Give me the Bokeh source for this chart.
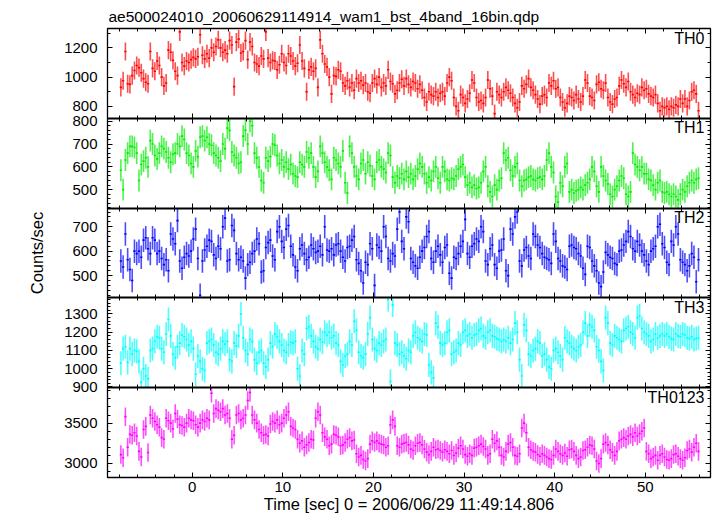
import numpy as np
from bokeh.plotting import figure
from bokeh.models import (ColumnDataSource, LinearAxis, Range1d, SingleIntervalTicker,
                          FixedTicker, Label)
from bokeh.embed import file_html
from bokeh.resources import INLINE

TITLE = "ae500024010_20060629114914_wam1_bst_4band_16bin.qdp"
X_LABEL = "Time [sec] 0 = 2006/06/29 11:49:14.806"
Y_LABEL = "Counts/sec"
BANDS = ["TH0", "TH1", "TH2", "TH3", "TH0123"]
T_START = -7.875   # centre of first 16-bin (0.25 s) bin
BIN = 0.25

th0 = [930, 975, 1175, 955, 950, 1010, 1045, 1080, 1065, 1030, 990, 965, 955, 1175, 1060, 1040,
       1110, 1080, 1000, 940, 960, 1185, 1170, 1115, 1040, 1010, 1310, 1100, 1075, 1110, 1100, 1120,
       1135, 1125, 1140, 1290, 1150, 1125, 1160, 1130, 1200, 1170, 1210, 1255, 1200, 1170, 1185, 1160,
       1250, 1220, 935, 1240, 1260, 1165, 1175, 1250, 1120, 1240, 1210, 1100, 1090, 1075, 1145, 1125,
       1310, 1130, 1100, 1115, 1110, 1050, 1085, 1160, 1100, 1080, 1160, 1145, 1110, 1075, 1095, 1220,
       1110, 1060, 900, 1050, 1070, 1040, 1060, 930, 1255, 1160, 1090, 1070, 1000, 885, 1010, 1005,
       1050, 1040, 960, 940, 975, 930, 960, 910, 990, 960, 975, 945, 960, 900, 890, 960,
       990, 950, 1000, 930, 960, 940, 1050, 970, 955, 885, 910, 960, 985, 940, 990, 950,
       930, 970, 960, 920, 950, 910, 860, 830, 900, 880, 870, 900, 860, 890, 900, 870,
       960, 1000, 975, 860, 800, 770, 880, 860, 820, 850, 890, 980, 960, 860, 830, 840,
       820, 860, 980, 920, 870, 750, 900, 880, 860, 900, 930, 910, 890, 860, 820, 790,
       830, 940, 920, 950, 990, 930, 910, 880, 850, 815, 870, 880, 860, 960, 940, 975,
       920, 930, 860, 830, 790, 820, 870, 860, 840, 880, 850, 830, 870, 980, 960, 870,
       860, 840, 950, 965, 920, 910, 960, 860, 830, 815, 850, 860, 940, 980, 955, 930,
       970, 900, 880, 860, 890, 880, 930, 910, 920, 885, 870, 860, 880, 820, 770, 800,
       790, 800, 780, 800, 790, 810, 800, 850, 820, 850, 800, 840, 900, 910, 885, 770]

th1 = [585, 500, 630, 660, 690, 690, 685, 660, 540, 610, 625, 640, 600, 715, 700, 650,
       635, 660, 690, 680, 665, 640, 620, 655, 660, 700, 690, 735, 720, 660, 650, 615,
       600, 670, 645, 730, 735, 715, 730, 700, 695, 660, 650, 640, 625, 700, 680, 770,
       760, 665, 650, 640, 615, 620, 735, 760, 700, 800, 780, 660, 640, 600, 540, 530,
       640, 625, 645, 700, 695, 650, 615, 630, 600, 620, 590, 610, 570, 560, 555, 620,
       610, 600, 665, 640, 660, 600, 555, 580, 690, 660, 620, 600, 585, 545, 640, 630,
       615, 600, 670, 530, 485, 690, 660, 600, 560, 545, 615, 630, 570, 620, 605, 560,
       545, 620, 630, 600, 590, 575, 660, 650, 555, 530, 560, 550, 570, 545, 580, 555,
       570, 545, 560, 590, 615, 600, 570, 530, 555, 540, 580, 600, 550, 530, 600, 580,
       545, 540, 550, 545, 560, 590, 600, 610, 555, 520, 530, 510, 520, 505, 510, 530,
       580, 600, 515, 490, 470, 520, 500, 540, 550, 660, 630, 640, 585, 560, 600, 615,
       540, 515, 540, 545, 555, 560, 545, 540, 550, 555, 545, 560, 630, 660, 600, 575,
       470, 445, 530, 515, 600, 615, 490, 500, 485, 495, 500, 510, 500, 520, 530, 545,
       600, 580, 515, 490, 600, 560, 540, 525, 480, 470, 500, 515, 540, 560, 550, 480,
       470, 490, 660, 610, 600, 585, 600, 570, 570, 545, 540, 520, 500, 530, 540, 490,
       485, 490, 480, 470, 480, 470, 455, 480, 500, 490, 515, 530, 540, 530, 545, 550]

th2 = [560, 535, 670, 565, 525, 480, 600, 590, 600, 575, 645, 655, 610, 590, 655, 645,
       590, 600, 570, 545, 565, 520, 670, 650, 630, 725, 560, 530, 575, 590, 580, 600,
       650, 690, 570, 420, 560, 605, 620, 645, 640, 585, 570, 620, 610, 700, 735, 560,
       565, 705, 685, 590, 565, 575, 560, 490, 545, 555, 590, 600, 650, 630, 515, 520,
       615, 635, 645, 580, 565, 680, 700, 640, 615, 690, 705, 620, 585, 535, 520, 610,
       625, 590, 565, 575, 625, 610, 595, 600, 620, 585, 700, 605, 600, 610, 585, 625,
       630, 600, 575, 560, 615, 620, 645, 660, 565, 550, 520, 470, 555, 545, 630, 610,
       460, 625, 615, 600, 700, 660, 570, 560, 590, 580, 690, 760, 640, 610, 740, 720,
       570, 555, 540, 530, 575, 600, 615, 660, 680, 570, 555, 600, 620, 585, 555, 615,
       625, 510, 490, 575, 570, 590, 620, 640, 730, 590, 575, 620, 630, 650, 640, 700,
       680, 560, 545, 610, 625, 545, 530, 600, 605, 650, 520, 500, 690, 670, 740, 760,
       560, 540, 605, 615, 580, 570, 670, 660, 625, 615, 590, 575, 570, 565, 550, 670,
       640, 570, 560, 540, 535, 525, 620, 625, 615, 610, 590, 580, 530, 505, 620, 615,
       560, 540, 520, 470, 455, 515, 595, 585, 575, 570, 550, 545, 600, 605, 625, 640,
       680, 660, 610, 600, 640, 625, 600, 585, 560, 545, 600, 610, 620, 700, 710, 630,
       615, 555, 545, 640, 625, 700, 670, 565, 555, 545, 520, 540, 590, 575, 475, 565]

th3 = [1030, 1110, 1120, 1035, 1110, 1080, 1100, 1095, 1040, 925, 1000, 960, 945, 1100, 1110, 1150,
       1175, 1170, 1110, 1090, 1190, 1270, 1180, 1080, 1060, 1120, 1140, 1185, 1175, 1160, 1130, 1150,
       1110, 970, 1070, 1040, 1000, 990, 1140, 1150, 1160, 1130, 1090, 1080, 1110, 1150, 1135, 1150,
       1050, 1040, 1140, 1125, 1180, 1300, 1170, 1100, 1080, 1160, 1150, 1050, 1030, 1090, 1100, 1030,
       1010, 1050, 1140, 1120, 1190, 1175, 1150, 1130, 1100, 1090, 1130, 1145, 1140, 1150, 1000, 960,
       1100, 1080, 1220, 1230, 1180, 1150, 1120, 1110, 1160, 1145, 1200, 1185, 1200, 1170, 1180, 1140,
       1130, 1040, 1020, 1070, 1080, 1150, 1130, 1260, 1210, 1090, 1070, 1060, 1080, 1190, 1280, 1160,
       1110, 1100, 1140, 1130, 1150, 1160, 1380, 930, 1350, 1140, 1130, 1080, 1090, 1070, 1055, 1100,
       1090, 1180, 1200, 1170, 1160, 1150, 1190, 1185, 1020, 980, 950, 1250, 1230, 1140, 1130, 1140,
       1200, 1210, 1080, 1090, 1100, 1140, 1130, 1200, 1210, 1180, 1190, 1170, 1185, 1190, 1210, 1220,
       1180, 1170, 1200, 1210, 1180, 1175, 1165, 1160, 1150, 1160, 1150, 1170, 1140, 1160, 1250, 1200,
       1050, 960, 1240, 1210, 1080, 1070, 1100, 1110, 1150, 1140, 1070, 1080, 1050, 1010, 1000, 1100,
       1110, 1090, 1070, 1050, 1170, 1150, 1140, 1120, 1110, 1100, 1120, 1130, 1200, 1250, 1180, 1240,
       1230, 1210, 1120, 1100, 1040, 990, 1280, 1250, 1140, 1130, 1180, 1170, 1160, 1150, 1210, 1220,
       1230, 1200, 1190, 1170, 1280, 1290, 1220, 1200, 1190, 1180, 1150, 1160, 1190, 1170, 1180, 1190,
       1180, 1190, 1175, 1165, 1160, 1190, 1180, 1175, 1190, 1185, 1170, 1165, 1175, 1160, 1165, 1170]

th0123 = [3110, 3070, 3580, 3200, 3360, 3350, 3380, 3340, 3150, 3080, 3420, 3460, 3135, 3600, 3560, 3520,
          3480, 3450, 3320, 3300, 3560, 3530, 3500, 3430, 3620, 3550, 3480, 3470, 3450, 3500, 3560, 3540,
          3530, 3480, 3450, 3500, 3540, 3520, 3560, 3540, 3870, 3620, 3680, 3660, 3640, 3680, 3600, 3620,
          3560, 3300, 3350, 3600, 3620, 3540, 3560, 3600, 3780, 3880, 3600, 3540, 3500, 3420, 3380, 3350,
          3360, 3340, 3490, 3520, 3500, 3540, 3480, 3500, 3560, 3600, 3640, 3460, 3440, 3420, 3300, 3250,
          3280, 3200, 3230, 3260, 3300, 3290, 3560, 3640, 3600, 3380, 3330, 3300, 3220, 3240, 3360, 3350,
          3330, 3220, 3230, 3260, 3300, 3320, 3280, 3290, 3120, 3080, 3100, 3050, 3030, 3060, 3240, 3280,
          3260, 3280, 3250, 3240, 3230, 3200, 3220, 3480, 3540, 3460, 3220, 3200, 3240, 3250, 3260, 3230,
          3180, 3160, 3220, 3250, 3260, 3230, 3180, 3140, 3110, 3150, 3200, 3170, 3180, 3160, 3140, 3170,
          3150, 3120, 3160, 3100, 3130, 3190, 3220, 3180, 3110, 3090, 3120, 3100, 3190, 3200, 3220, 3240,
          3210, 3180, 3100, 3120, 3300, 3250, 3280, 3200, 3100, 3080, 3150, 3240, 3260, 3200, 3100, 3090,
          3120, 3440, 3500, 3380, 3200, 3170, 3150, 3140, 3110, 3090, 3120, 3100, 3080, 3060, 3050, 3100,
          3180, 3150, 3120, 3100, 3130, 3090, 3170, 3180, 3150, 3100, 3060, 3080, 3160, 3170, 3200, 3230,
          3220, 3180, 3030, 3000, 3060, 3240, 3260, 3230, 3170, 3140, 3100, 3150, 3280, 3300, 3320, 3300,
          3340, 3360, 3330, 3380, 3340, 3370, 3400, 3440, 3150, 3120, 3060, 3080, 3100, 3040, 3100, 3120,
          3080, 3050, 3040, 3060, 3110, 3120, 3090, 3060, 3040, 3070, 3160, 3180, 3140, 3200, 3250, 3150]

SERIES = [th0, th1, th2, th3, th0123]
ERRORS = [62, 48, 48, 66, 115]          # typical 1-sigma error bar half-length per band
Y_LIMITS = [(718, 1333), (419, 813), (409, 776), (896, 1388), (2826, 3939)]
Y_LABEL_TICKS = [[800, 1000, 1200], [500, 600, 700, 800], [500, 600, 700],
                 [900, 1000, 1100, 1200, 1300], [3000, 3500]]
Y_MINOR_STEP = [100, 20, 20, 20, 100]
X_LIMITS = (-9.35, 57.2)
COLORS = ["#ff0000", "#00ee00", "#0000ff", "#00ffff", "#ff00ff"]

FONT = "Liberation Sans"
n = len(SERIES)

p = figure(width=717, height=516, x_range=Range1d(*X_LIMITS), y_range=Range1d(0, n),
           output_backend="svg", toolbar_location=None,
           x_axis_location=None, y_axis_location=None,
           min_border_left=107, min_border_right=7, min_border_top=28, min_border_bottom=39,
           outline_line_color="black", outline_line_width=1.3,
           background_fill_color="white", border_fill_color="white")
p.grid.visible = False


def ticks_style(ax, tin=5, tout=0, mtin=3, mtout=0):
    ax.major_tick_in = tin
    ax.major_tick_out = tout
    ax.minor_tick_in = mtin
    ax.minor_tick_out = mtout
    ax.major_tick_line_color = "black"
    ax.minor_tick_line_color = "black"


# ---- x axes: labelled bottom, plain top, shared boundaries between panels
xt = SingleIntervalTicker(interval=10, num_minor_ticks=5)
ax_b = LinearAxis(ticker=xt)
ticks_style(ax_b)
ax_b.axis_line_color = None
ax_b.major_label_text_font = FONT
ax_b.major_label_text_font_size = "15px"
ax_b.major_label_text_line_height = 1.0
ax_b.major_label_text_color = "black"
ax_b.major_label_standoff = 4
ax_b.axis_label = X_LABEL
ax_b.axis_label_text_font = FONT
ax_b.axis_label_text_font_size = "16.5px"
ax_b.axis_label_text_line_height = 1.0
ax_b.axis_label_text_font_style = "normal"
ax_b.axis_label_text_color = "black"
ax_b.axis_label_standoff = 0
p.add_layout(ax_b, "below")

ax_t = LinearAxis(ticker=xt, fixed_location=n)
ticks_style(ax_t)
ax_t.axis_line_color = None
ax_t.major_label_text_color = None
p.add_layout(ax_t, "above")

for k in range(1, n):
    ax_k = LinearAxis(ticker=xt, fixed_location=k)
    ticks_style(ax_k, 5, 5, 3, 3)
    ax_k.axis_line_color = "black"
    ax_k.axis_line_width = 2
    ax_k.major_label_text_color = None
    p.add_layout(ax_k, "below")

# ---- panels: each band gets its own y range occupying one fifth of the frame
t = T_START + BIN * np.arange(len(th0))
major_pos, minor_pos, overrides = [], [], {}
for i in range(n):
    lo, hi = Y_LIMITS[i]
    span = hi - lo
    base = n - 1 - i          # panel i (from top) occupies band [base, base + 1]
    rng = f"p{i}"
    p.extra_y_ranges[rng] = Range1d(lo - base * span, hi + i * span)

    for m in Y_LABEL_TICKS[i]:
        if lo <= m <= hi:
            pos = round(base + (m - lo) / span, 6)
            major_pos.append(pos)
            overrides[pos] = str(m)
    step = Y_MINOR_STEP[i]
    for m in np.arange(np.ceil(lo / step) * step, hi, step):
        minor_pos.append(round(base + (m - lo) / span, 6))

    v = np.array(SERIES[i], dtype=float)
    e = ERRORS[i]
    inside = np.where((v >= lo) & (v <= hi), v, np.nan)
    src = ColumnDataSource(dict(t=t, tl=t - BIN / 2, tr=t + BIN / 2, v=inside,
                                elo=np.clip(v - e, lo, hi), ehi=np.clip(v + e, lo, hi)))
    p.segment(x0="t", x1="t", y0="elo", y1="ehi", source=src, y_range_name=rng,
              line_color=COLORS[i], line_width=1.6, line_alpha=0.7)
    p.segment(x0="tl", x1="tr", y0="v", y1="v", source=src, y_range_name=rng,
              line_color=COLORS[i], line_width=1.6)

    p.add_layout(Label(x=X_LIMITS[1], y=base + 1, x_offset=-6, y_offset=-1, text=BANDS[i],
                       text_align="right", text_baseline="top",
                       text_font=FONT, text_font_size="16px", text_color="black"))

yt = FixedTicker(ticks=major_pos, minor_ticks=minor_pos)
ax_l = LinearAxis(ticker=yt)
ticks_style(ax_l)
ax_l.axis_line_color = None
ax_l.major_label_overrides = overrides
ax_l.major_label_text_font = FONT
ax_l.major_label_text_font_size = "15px"
ax_l.major_label_text_color = "black"
ax_l.major_label_standoff = 10
ax_l.axis_label = Y_LABEL
ax_l.axis_label_text_font = FONT
ax_l.axis_label_text_font_size = "16.5px"
ax_l.axis_label_text_line_height = 1.0
ax_l.axis_label_text_font_style = "normal"
ax_l.axis_label_text_color = "black"
ax_l.axis_label_standoff = 15
p.add_layout(ax_l, "left")

ax_r = LinearAxis(ticker=yt, fixed_location=X_LIMITS[1])
ticks_style(ax_r)
ax_r.axis_line_color = None
ax_r.major_label_text_color = None
p.add_layout(ax_r, "right")

p.title.text = TITLE
p.title.text_font = FONT
p.title.text_font_size = "15.5px"
p.title.text_font_style = "normal"
p.title.text_color = "black"
p.title.align = "left"
p.title.offset = 1
p.title.standoff = 7

open("out.html", "w").write(file_html(p, INLINE))
